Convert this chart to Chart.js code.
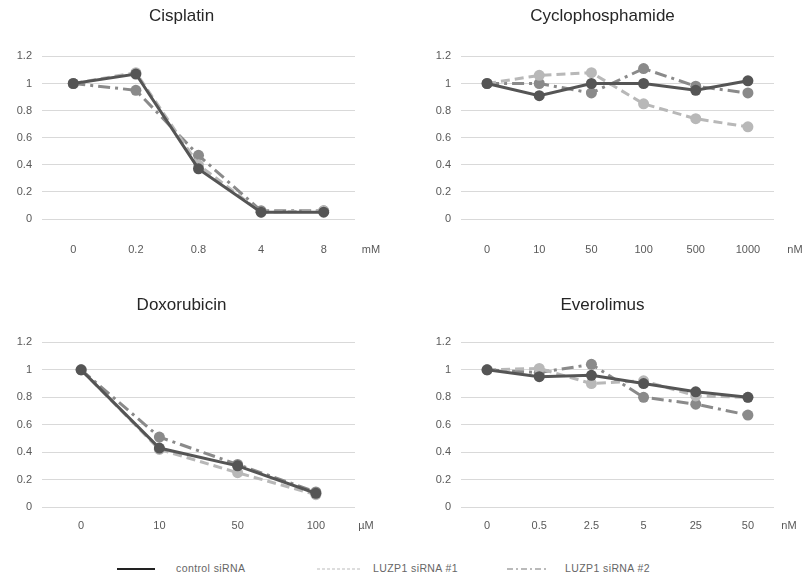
<!DOCTYPE html>
<html>
<head>
<meta charset="utf-8">
<script src="https://cdn.jsdelivr.net/npm/chart.js@4.4.1/dist/chart.umd.min.js"></script>
<style>
  body { margin: 0; background: #fff; width: 806px; height: 576px; position: relative; overflow: hidden; font-family: "Liberation Sans", Arial, sans-serif; }
  canvas { position: absolute; }
  .legend { position: absolute; top: 562px; font-size: 10.5px; letter-spacing: 0.4px; color: #666; }
  .legend span { position: absolute; white-space: nowrap; top: 0; }
  .legend svg { position: absolute; top: 2px; }
</style>
</head>
<body>
<canvas id="cis" width="403" height="275" style="left:0;top:0"></canvas>
<canvas id="cyc" width="403" height="275" style="left:403px;top:0"></canvas>
<canvas id="dox" width="403" height="275" style="left:0;top:280px"></canvas>
<canvas id="eve" width="403" height="275" style="left:403px;top:280px"></canvas>

<div class="legend">
  <svg style="left:117px" width="38" height="10"><line x1="0" y1="5" x2="38" y2="5" stroke="#222" stroke-width="2"/></svg>
  <span style="left:176px">control siRNA</span>
  <svg style="left:317px" width="43" height="10"><line x1="0" y1="5" x2="43" y2="5" stroke="#bbb" stroke-width="1" stroke-dasharray="3,2"/></svg>
  <span style="left:373px">LUZP1 siRNA #1</span>
  <svg style="left:507px" width="41" height="10"><line x1="0" y1="5" x2="41" y2="5" stroke="#777" stroke-width="1.2" stroke-dasharray="6,3,2,3"/></svg>
  <span style="left:565px">LUZP1 siRNA #2</span>
</div>

<script>
// series names
const seriesNames = ['control siRNA', 'LUZP1 siRNA #1', 'LUZP1 siRNA #2'];
const yTickLabels = ['0', '0.2', '0.4', '0.6', '0.8', '1', '1.2'];

// Cisplatin (mM)
const cisplatinDoses = ['0', '0.2', '0.8', '4', '8'];
const cisplatinControl = [1, 1.07, 0.37, 0.05, 0.05];
const cisplatinSi1 = [1, 1.08, 0.40, 0.05, 0.06];
const cisplatinSi2 = [1, 0.95, 0.47, 0.06, 0.06];

// Cyclophosphamide (nM)
const cycloDoses = ['0', '10', '50', '100', '500', '1000'];
const cycloControl = [1, 0.91, 1.00, 1.00, 0.95, 1.02];
const cycloSi1 = [1, 1.06, 1.08, 0.85, 0.74, 0.68];
const cycloSi2 = [1, 1.00, 0.93, 1.11, 0.98, 0.93];

// Doxorubicin (µM)
const doxoDoses = ['0', '10', '50', '100'];
const doxoControl = [1, 0.43, 0.30, 0.10];
const doxoSi1 = [1, 0.42, 0.25, 0.09];
const doxoSi2 = [1, 0.51, 0.31, 0.11];

// Everolimus (nM)
const everoDoses = ['0', '0.5', '2.5', '5', '25', '50'];
const everoControl = [1, 0.95, 0.96, 0.90, 0.84, 0.80];
const everoSi1 = [1, 1.01, 0.90, 0.92, 0.81, 0.80];
const everoSi2 = [1, 0.98, 1.04, 0.80, 0.75, 0.67];

const seriesStyles = [
    { color: '#555555', dash: [] },
    { color: '#b8b8b8', dash: [9, 5] },
    { color: '#8a8a8a', dash: [12, 5, 3, 5] }
];

const font = '"Liberation Sans", Arial, sans-serif';

// draws the unit text to the right of the x labels
const unitPlugin = {
    id: 'unitLabel',
    afterDraw(chart, args, opts) {
        const ctx = chart.ctx;
        const x = chart.scales.x;
        ctx.save();
        ctx.font = '11px ' + font;
        ctx.fillStyle = '#595959';
        ctx.textAlign = 'center';
        ctx.textBaseline = 'middle';
        ctx.fillText(opts.text, chart.chartArea.right + opts.dx, x.top + opts.pad + 15);
        ctx.restore();
    }
};

function makePanel(id, title, labels, series, unit, side, row) {
    const left = side === 'left';
    const top = row === 0;
    const padL = left ? 8 : 28;
    const yWidth = left ? 34 : 30;
    const padR = left ? 48 : 32;
    const tickPad = top ? 16 : 4;
    const unitDx = { cis: 16, cyc: 21, dox: 11, eve: 15 }[id];

    new Chart(document.getElementById(id), {
        type: 'line',
        data: {
            labels: labels,
            datasets: series.map((values, i) => ({
                label: seriesNames[i],
                data: values,
                borderColor: seriesStyles[i].color,
                backgroundColor: seriesStyles[i].color,
                borderDash: seriesStyles[i].dash,
                borderWidth: 3,
                pointRadius: 5.5,
                pointBorderWidth: 0,
                pointBackgroundColor: seriesStyles[i].color,
                tension: 0
            }))
        },
        options: {
            responsive: false,
            animation: false,
            layout: { padding: { left: padL, right: padR, top: 0, bottom: top ? 11 : 3 } },
            plugins: {
                legend: { display: false },
                tooltip: { enabled: false },
                title: {
                    display: true,
                    text: title,
                    color: '#262626',
                    font: { family: font, size: 17, weight: 'normal' },
                    padding: top ? { top: 6, bottom: 30 } : { top: 15, bottom: 27 }
                },
                unitLabel: { text: unit, dx: unitDx, pad: tickPad }
            },
            scales: {
                x: {
                    offset: true,
                    grid: { display: false },
                    border: { display: false },
                    ticks: { color: '#595959', padding: tickPad, font: { size: 11, family: font } },
                    afterFit: s => { s.height = 45; }
                },
                y: {
                    min: 0,
                    max: 1.2,
                    grid: { color: '#d9d9d9', drawTicks: false },
                    border: { display: false },
                    ticks: {
                        stepSize: 0.2,
                        padding: 10,
                        color: '#595959',
                        font: { size: 11, family: font },
                        callback: (v, i) => yTickLabels[i]
                    },
                    afterFit: s => { s.width = yWidth; }
                }
            }
        },
        plugins: [unitPlugin]
    });
}

makePanel('cis', 'Cisplatin', cisplatinDoses, [cisplatinControl, cisplatinSi1, cisplatinSi2], 'mM', 'left', 0);
makePanel('cyc', 'Cyclophosphamide', cycloDoses, [cycloControl, cycloSi1, cycloSi2], 'nM', 'right', 0);
makePanel('dox', 'Doxorubicin', doxoDoses, [doxoControl, doxoSi1, doxoSi2], '\u00b5M', 'left', 1);
makePanel('eve', 'Everolimus', everoDoses, [everoControl, everoSi1, everoSi2], 'nM', 'right', 1);
</script>
</body>
</html>
